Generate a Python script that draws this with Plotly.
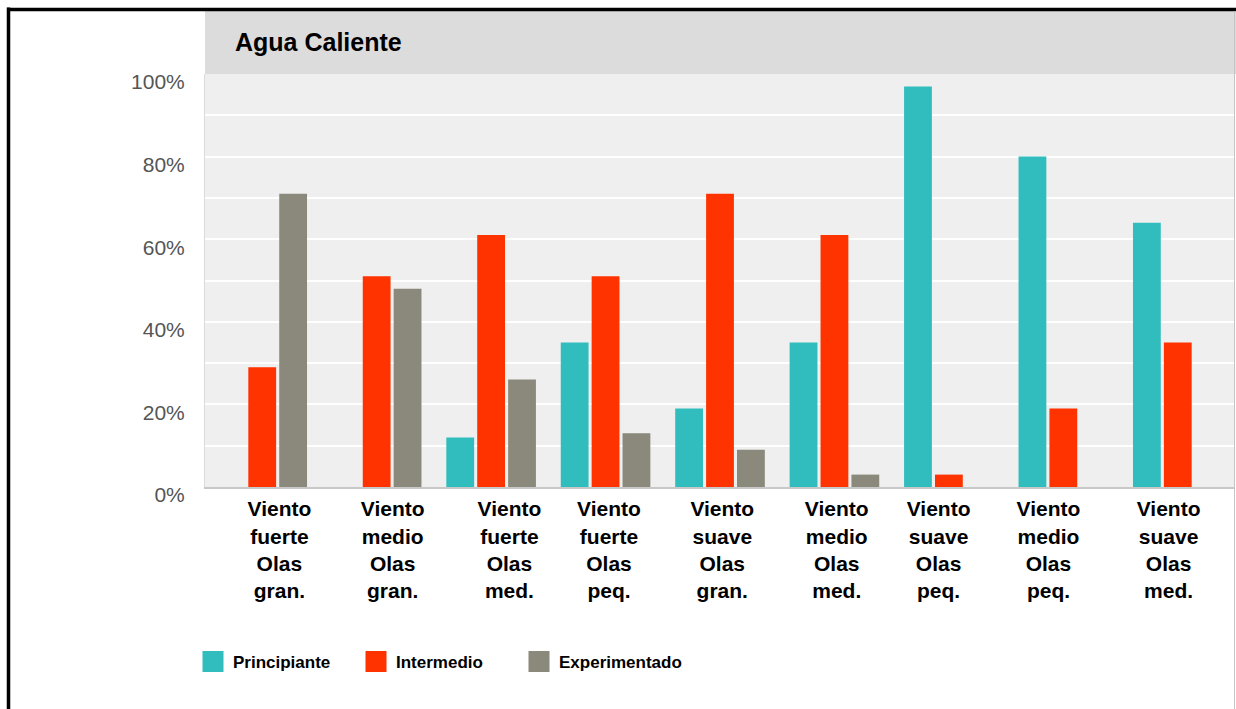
import plotly.graph_objects as go

# ---------------- data ----------------
categories = [
    "Viento<br>fuerte<br>Olas<br>gran.",
    "Viento<br>medio<br>Olas<br>gran.",
    "Viento<br>fuerte<br>Olas<br>med.",
    "Viento<br>fuerte<br>Olas<br>peq.",
    "Viento<br>suave<br>Olas<br>gran.",
    "Viento<br>medio<br>Olas<br>med.",
    "Viento<br>suave<br>Olas<br>peq.",
    "Viento<br>medio<br>Olas<br>peq.",
    "Viento<br>suave<br>Olas<br>med.",
]
principiante = [0, 0, 12, 35, 19, 35, 97, 80, 64]
intermedio = [29, 51, 61, 51, 71, 61, 3, 19, 35]
experimentado = [71, 48, 26, 13, 9, 3, 0, 0, 0]
series_names = ["Principiante", "Intermedio", "Experimentado"]
y_ticks = [0, 20, 40, 60, 80, 100]

# ---------------- layout constants ----------------
W, H = 1236, 709
ML, MR, MT, MB = 205, 1, 74, 709 - 487
colors = ["#31bdbd", "#ff3300", "#8a897b"]
label_shift = [0.15, 0.14, 0.16, 0.03, 0.02, 0.02, -0.09, -0.13, -0.08]

PW = W - ML - MR
PH = H - MT - MB


def px_x(px):
    """page pixel x -> paper coordinate"""
    return (px - ML) / PW


def px_y(py):
    """page pixel y -> paper coordinate"""
    return (H - MB - py) / PH


idx = list(range(len(categories)))
fig = go.Figure()
for name, vals, col in zip(series_names, [principiante, intermedio, experimentado], colors):
    fig.add_trace(go.Bar(
        x=idx, y=[v / 100 for v in vals], name=name,
        marker=dict(color=col, line=dict(width=0)),
        showlegend=False, hovertemplate="%{y:.0%}<extra>" + name + "</extra>",
    ))
for name, col in zip(series_names, colors):
    fig.add_trace(go.Scatter(
        x=[None], y=[None], mode="markers", name=name,
        marker=dict(symbol="square", size=22, color=col, line=dict(color=col, width=6)),
        showlegend=True,
    ))

shapes = [
    # title band
    dict(type="rect", xref="paper", yref="paper", x0=0, x1=1.002, y0=1, y1=px_y(11),
         fillcolor="#dcdcdc", line=dict(width=0), layer="below"),
    # frame left
    dict(type="line", xref="paper", yref="paper", x0=px_x(8.5), x1=px_x(8.5), y0=px_y(7.5), y1=px_y(720),
         line=dict(color="black", width=3.5)),
    # frame top
    dict(type="line", xref="paper", yref="paper", x0=px_x(7), x1=px_x(1240), y0=px_y(9.5), y1=px_y(9.5),
         line=dict(color="black", width=3.5)),
    # right thin line
    dict(type="line", xref="paper", yref="paper", x0=px_x(1234.5), x1=px_x(1234.5), y0=px_y(11), y1=px_y(709),
         line=dict(color="#c4c4c4", width=1)),
]

fig.update_layout(
    width=W, height=H,
    margin=dict(l=ML, r=MR, t=MT, b=MB, pad=0),
    paper_bgcolor="white", plot_bgcolor="#efefef",
    barmode="group", bargap=0.19, bargroupgap=0.1,
    font=dict(family="Liberation Sans, Arial, sans-serif"),
    title=dict(text="Agua Caliente", xref="container", yref="container",
               x=235 / W, y=1 - 42 / H, xanchor="left", yanchor="middle",
               font=dict(size=25, color="black", weight="bold", family="Liberation Sans, Arial, sans-serif")),
    xaxis=dict(range=[-0.5, len(categories) - 0.5], tickmode="array",
               tickvals=[i + s for i, s in zip(idx, label_shift)], ticktext=categories,
               tickfont=dict(size=21, color="black", weight="bold"),
               showgrid=False, zeroline=False, ticks="", ticklabelstandoff=2,
               showline=True, linecolor="#c8c8c8", linewidth=2, fixedrange=True),
    yaxis=dict(range=[0, 1], tickmode="array", tickvals=[t / 100 for t in y_ticks],
               ticktext=[f"{t}%" for t in y_ticks],
               tickfont=dict(size=21, color="#555555"),
               ticks="", ticklabelstandoff=15, ticklabelshift=8,
               showgrid=True, gridcolor="white", gridwidth=2,
               minor=dict(tickmode="array", tickvals=[i / 10 for i in range(1, 10, 2)],
                          showgrid=True, gridcolor="white", gridwidth=2),
               zeroline=False, showline=True, linecolor="#dadada", linewidth=1, fixedrange=True),
    legend=dict(orientation="h", x=px_x(193), xanchor="left", y=px_y(662), yanchor="middle",
                font=dict(size=17, color="black", weight="bold"),
                entrywidth=118, itemwidth=30, bgcolor="rgba(0,0,0,0)"),
    shapes=shapes,
)

# place the figure at the page origin with no scrollbars
fig.write_html(
    "out.html",
    config={"displayModeBar": False},
    post_script="document.body.style.margin='0';document.body.style.overflow='hidden';",
)
